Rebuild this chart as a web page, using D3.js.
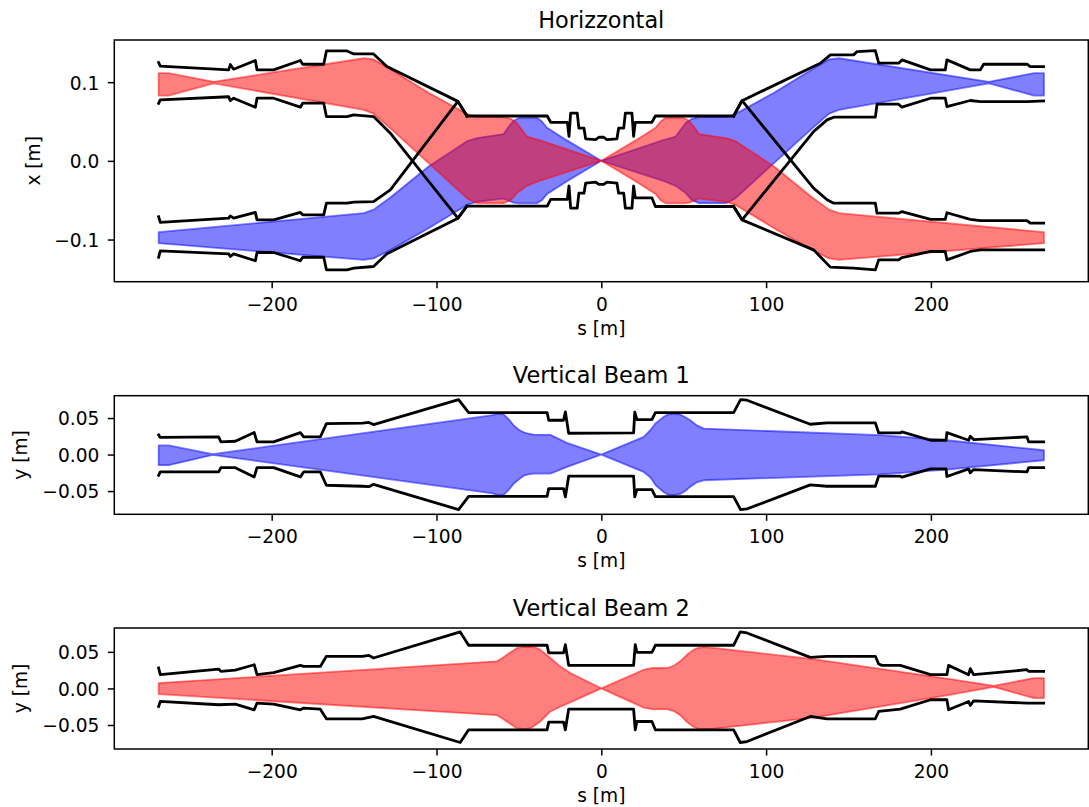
<!DOCTYPE html>
<html>
<head>
<meta charset="utf-8">
<script src="https://cdn.jsdelivr.net/npm/d3@7"></script>
<style>
  body { margin: 0; background: #fff; }
  svg { display: block; }
</style>
</head>
<body>
<script>
/**
 * DATA
 * bands are [s, lower, upper], aperture lines are [s, value]
 */
const sTicks = [-200, -100, 0, 100, 200];
const hTicks = [-0.1, 0, 0.1];
const vTicks = [-0.05, 0, 0.05];

// Horizontal envelopes
const hBeam1Band = [
  [-268.6, -0.1046, -0.0906], [-144.2, -0.1258, -0.0665], [-138.2, -0.124, -0.062],
  [-128.0, -0.1135, -0.0466], [-104.8, -0.0856, -0.0072], [-81.5, -0.056, 0.025],
  [-75.4, -0.052, 0.029], [-59.3, -0.048, 0.034], [-56.0, -0.051, 0.044], [-53.2, -0.0532, 0.051],
  [-50.0, -0.054, 0.0545], [-39.0, -0.054, 0.0548], [-36.0, -0.05, 0.05], [-32.9, -0.042, 0.042],
  [-20.8, -0.026, 0.026], [0, 0, 0], [37.0, -0.025, 0.026], [45.1, -0.0317, 0.0309],
  [51.2, -0.041, 0.048], [55.0, -0.05, 0.0535], [59.3, -0.0538, 0.0555], [75.4, -0.0538, 0.0555],
  [78.5, -0.051, 0.0575], [81.5, -0.0474, 0.0597], [104.8, -0.0028, 0.0866], [128.0, 0.0413, 0.1165],
  [138.2, 0.06, 0.129], [144.2, 0.0648, 0.1304], [235.2, 0.0985, 0.1005],
  [262.5, 0.083, 0.1114], [268.6, 0.083, 0.1114]
];
const hBeam2Band = [
  [-268.6, 0.083, 0.1114], [-262.5, 0.083, 0.1114], [-235.2, 0.0985, 0.1005],
  [-144.2, 0.0648, 0.1304], [-138.2, 0.06, 0.129], [-128.0, 0.0413, 0.1165],
  [-104.8, -0.0028, 0.0866], [-81.5, -0.0474, 0.0597], [-78.5, -0.051, 0.0575],
  [-75.4, -0.0538, 0.0555], [-59.3, -0.0538, 0.0555], [-55.0, -0.05, 0.0535],
  [-51.2, -0.041, 0.048], [-45.1, -0.0317, 0.0309], [-37.0, -0.025, 0.026], [0, 0, 0],
  [20.8, -0.026, 0.026], [32.9, -0.042, 0.042], [36.0, -0.05, 0.05], [39.0, -0.054, 0.0548],
  [50.0, -0.054, 0.0545], [53.2, -0.0532, 0.051], [56.0, -0.051, 0.044],
  [59.3, -0.048, 0.034], [75.4, -0.052, 0.029], [81.5, -0.056, 0.025],
  [104.8, -0.0856, -0.0072], [128.0, -0.1135, -0.0466], [138.2, -0.124, -0.062],
  [144.2, -0.1258, -0.0665], [268.6, -0.1046, -0.0906]
];

// Horizontal aperture, outer pipes (left and right of the common part)
const hApB2UpperLeft = [
  [-268.6, 0.125], [-267.6, 0.1205], [-226.1, 0.1156], [-225.1, 0.1224], [-223.1, 0.1165],
  [-209.9, 0.1275], [-208.9, 0.1156], [-198.8, 0.1156], [-182.6, 0.1275], [-181.2, 0.1228],
  [-168.4, 0.1228], [-166.8, 0.1397], [-154.3, 0.1397], [-150.2, 0.1359], [-138.2, 0.1359],
  [-130.1, 0.1198], [-87.0, 0.0756], [-81.5, 0.057]
];
const hApB2LowerLeft = [
  [-268.6, 0.073], [-267.6, 0.0775], [-226.1, 0.0815], [-225.1, 0.0765], [-223.1, 0.0796],
  [-209.9, 0.0682], [-208.9, 0.0796], [-198.8, 0.0796], [-182.6, 0.0682], [-181.2, 0.0733],
  [-168.4, 0.0733], [-166.8, 0.0563], [-154.3, 0.0563], [-150.2, 0.0584], [-138.2, 0.0563],
  [-128.0, 0.0351], [-87.0, -0.0729], [-81.5, -0.0575]
];
const hApB1UpperLeft = [
  [-268.6, -0.071], [-267.6, -0.0783], [-226.1, -0.0728], [-225.1, -0.07], [-223.1, -0.0728],
  [-209.9, -0.0656], [-208.9, -0.075], [-198.8, -0.075], [-182.6, -0.0656], [-181.2, -0.0686],
  [-168.4, -0.0686], [-166.8, -0.0538], [-154.3, -0.0538], [-150.2, -0.0525], [-138.2, -0.0517],
  [-128.0, -0.0368], [-87.0, 0.0756], [-81.5, 0.057]
];
const hApB1LowerLeft = [
  [-268.6, -0.1225], [-267.6, -0.1145], [-226.1, -0.1182], [-225.1, -0.1215], [-223.1, -0.1182],
  [-209.9, -0.127], [-208.9, -0.1165], [-198.8, -0.1165], [-182.6, -0.127], [-181.2, -0.1225],
  [-168.4, -0.1225], [-166.8, -0.1385], [-154.3, -0.1385], [-150.2, -0.1364], [-138.2, -0.1343],
  [-130.1, -0.1182], [-87.0, -0.0729], [-81.5, -0.0575]
];
const hApInnerUpper = [
  [-81.5, 0.057], [-32.8, 0.057], [-30.7, 0.049], [-20.6, 0.049], [-19.6, 0.031],
  [-18.6, 0.0606], [-14.6, 0.0606], [-13.6, 0.0415], [-10.5, 0.0415], [-9.5, 0.028],
  [-3.4, 0.027], [-1.5, 0.03], [1.5, 0.03], [3.4, 0.027], [9.5, 0.028], [10.5, 0.0415],
  [13.6, 0.0415], [14.6, 0.0606], [18.6, 0.0606], [19.6, 0.031], [20.6, 0.049],
  [30.7, 0.049], [32.8, 0.057], [80.3, 0.057]
];
const hApInnerLower = [
  [-81.5, -0.0575], [-32.8, -0.0575], [-30.7, -0.049], [-20.6, -0.049], [-19.6, -0.032],
  [-18.6, -0.0601], [-14.6, -0.0601], [-13.6, -0.0411], [-10.5, -0.0411], [-9.5, -0.0284],
  [-3.4, -0.027], [-1.5, -0.03], [1.5, -0.03], [3.4, -0.027], [9.5, -0.0284], [10.5, -0.0411],
  [13.6, -0.0411], [14.6, -0.0601], [18.6, -0.0601], [19.6, -0.032], [20.6, -0.047],
  [30.7, -0.047], [32.8, -0.058], [80.3, -0.058]
];
const hApB1UpperRight = [
  [80.3, 0.057], [85.4, 0.0765], [132.9, 0.1241], [139.0, 0.1347], [153.1, 0.1347],
  [155.2, 0.1389], [166.3, 0.1402], [168.3, 0.1241], [180.4, 0.1241], [182.4, 0.1283],
  [199.8, 0.1156], [208.7, 0.1156], [209.7, 0.1283], [223.9, 0.1156], [230.0, 0.1156],
  [232.0, 0.1228], [258.3, 0.1228], [260.3, 0.1198], [268.4, 0.1198]
];
const hApB1LowerRight = [
  [80.3, -0.058], [85.4, -0.075], [128.8, 0.0372], [137.0, 0.0521], [141.0, 0.0555],
  [166.3, 0.0555], [167.3, 0.072], [180.4, 0.072], [182.4, 0.0682], [199.8, 0.0796],
  [208.7, 0.0796], [209.7, 0.069], [223.9, 0.0767], [230.0, 0.0754], [258.3, 0.0754],
  [268.4, 0.0762]
];
const hApB2UpperRight = [
  [80.3, 0.057], [85.4, 0.0765], [128.8, -0.0347], [137.0, -0.0495], [141.0, -0.0538],
  [166.3, -0.0538], [167.3, -0.0665], [180.4, -0.0665], [182.4, -0.0645], [199.8, -0.0745],
  [208.7, -0.0745], [209.7, -0.066], [223.9, -0.0745], [230.0, -0.076], [258.3, -0.076],
  [260.3, -0.0792], [268.4, -0.0792]
];
const hApB2LowerRight = [
  [80.3, -0.058], [85.4, -0.075], [128.8, -0.1131], [139.0, -0.1351], [153.1, -0.1364],
  [166.3, -0.1385], [168.3, -0.1258], [180.4, -0.1258], [182.4, -0.123], [199.8, -0.1152],
  [208.7, -0.1152], [209.7, -0.1258], [223.9, -0.1152], [230.0, -0.1131], [268.4, -0.1131]
];

// Vertical envelopes
const vBeam1Band = [
  [-268.6, -0.0145, 0.0125], [-262.5, -0.0145, 0.0125], [-235.8, -0.0005, 0.0005],
  [-66.0, -0.053, 0.054], [-63.3, -0.0555, 0.056], [-59.3, -0.0555, 0.055],
  [-56.0, -0.048, 0.048], [-53.2, -0.04, 0.04], [-50.0, -0.034, 0.034],
  [-47.1, -0.029, 0.0305], [-44.0, -0.027, 0.0285], [-41.1, -0.0261, 0.0274],
  [-30.9, -0.0261, 0.027], [-20.8, -0.0169, 0.016], [0, 0, 0],
  [25.7, -0.0238, 0.0242], [29.7, -0.031, 0.0333], [33.0, -0.042, 0.043],
  [37.8, -0.0512, 0.0516], [40.5, -0.055, 0.055], [43.9, -0.0557, 0.0561],
  [47.9, -0.054, 0.0547], [51.0, -0.05, 0.051], [54.0, -0.044, 0.047],
  [58.0, -0.038, 0.04], [62.1, -0.0352, 0.0356], [169.3, -0.027, 0.0265],
  [209.7, -0.0206, 0.0196], [268.6, -0.0078, 0.0059]
];
const vBeam2Band = [
  [-268.6, -0.0077, 0.0073], [-63.3, -0.0365, 0.037], [-60.0, -0.041, 0.0415],
  [-57.2, -0.0455, 0.0461], [-51.2, -0.0545, 0.0553], [-47.0, -0.0555, 0.0568],
  [-43.1, -0.0543, 0.0566], [-40.0, -0.05, 0.056], [-37.0, -0.0452, 0.053],
  [-30.9, -0.0315, 0.0416], [-24.9, -0.025, 0.0301], [-18.8, -0.019, 0.021],
  [0, 0, 0], [25.7, -0.0262, 0.0256], [30.7, -0.0283, 0.0279], [39.8, -0.0283, 0.0279],
  [44.0, -0.031, 0.031], [47.9, -0.0365, 0.037], [52.0, -0.046, 0.046],
  [56.0, -0.0525, 0.053], [59.0, -0.0552, 0.0556], [62.1, -0.0558, 0.0566],
  [68.2, -0.055, 0.0553], [128.8, -0.04, 0.04], [209.7, -0.0094, 0.0134],
  [238.1, 0.002, 0.0035], [262.5, -0.0132, 0.0142], [268.6, -0.0132, 0.0142]
];

// Vertical apertures
const vAp1Upper = [
  [-268.6, 0.027], [-267.6, 0.0235], [-232.2, 0.0241], [-230.8, 0.0173], [-222.1, 0.0182],
  [-210.6, 0.0301], [-208.9, 0.0173], [-198.8, 0.0173], [-182.6, 0.0301], [-180.6, 0.0241],
  [-170.5, 0.0241], [-166.8, 0.0424], [-145.0, 0.043], [-141.0, 0.044], [-138.2, 0.0411],
  [-86.6, 0.0753], [-80.5, 0.0575], [-32.9, 0.0575], [-31.9, 0.047], [-22.9, 0.047],
  [-21.8, 0.0584], [-19.8, 0.0292], [19.6, 0.0296], [20.3, 0.058], [21.6, 0.0479],
  [30.7, 0.0479], [32.8, 0.0575], [80.3, 0.0575], [84.5, 0.0753], [88.4, 0.0744],
  [126.8, 0.0415], [136.9, 0.0434], [166.3, 0.0434], [168.3, 0.0296], [181.4, 0.0296],
  [182.4, 0.031], [199.8, 0.0196], [209.2, 0.0196], [209.7, 0.0301], [222.9, 0.0196],
  [223.9, 0.0251], [225.9, 0.0205], [258.3, 0.0241], [259.3, 0.0173], [268.4, 0.0173]
];
const vAp1Lower = [
  [-268.6, -0.0284], [-267.6, -0.0238], [-232.2, -0.0238], [-230.8, -0.0179], [-222.1, -0.0179],
  [-210.6, -0.0306], [-208.9, -0.0179], [-198.8, -0.0179], [-182.6, -0.0306], [-180.6, -0.0238],
  [-170.5, -0.0238], [-166.8, -0.042], [-145.0, -0.0434], [-141.0, -0.044], [-138.2, -0.0407],
  [-86.6, -0.0754], [-80.5, -0.0572], [-32.9, -0.0572], [-31.9, -0.0466], [-22.9, -0.0466],
  [-21.8, -0.058], [-19.8, -0.0296], [19.6, -0.0296], [20.3, -0.058], [21.6, -0.0479],
  [30.7, -0.0479], [32.8, -0.0575], [80.3, -0.0575], [84.5, -0.0754], [88.4, -0.0744],
  [126.8, -0.0415], [136.9, -0.0434], [166.3, -0.0434], [168.3, -0.0296], [181.4, -0.0296],
  [182.4, -0.031], [199.8, -0.0196], [209.2, -0.0196], [209.7, -0.0301], [222.9, -0.0196],
  [223.9, -0.0251], [225.9, -0.0205], [258.3, -0.0238], [259.3, -0.0179], [268.4, -0.0179]
];
const vAp2Upper = [
  [-268.6, 0.0279], [-267.6, 0.0188], [-232.2, 0.0265], [-230.8, 0.0233], [-222.1, 0.025],
  [-210.6, 0.0324], [-208.9, 0.0188], [-198.8, 0.0215], [-182.6, 0.0315], [-180.6, 0.0301],
  [-170.5, 0.0301], [-166.8, 0.0439], [-145.0, 0.0439], [-141.0, 0.0452], [-138.2, 0.0416],
  [-85.6, 0.0772], [-80.5, 0.059], [-32.9, 0.059], [-31.9, 0.0485], [-22.9, 0.0485],
  [-21.8, 0.0598], [-19.8, 0.0315], [19.6, 0.0315], [20.6, 0.0598], [21.6, 0.0494],
  [30.7, 0.0494], [32.8, 0.059], [80.3, 0.059], [84.3, 0.0772], [88.4, 0.0758],
  [126.8, 0.0425], [136.9, 0.0439], [166.3, 0.0439], [168.3, 0.0334], [170.3, 0.0315],
  [181.4, 0.0315], [199.8, 0.0188], [209.7, 0.0188], [210.7, 0.0315], [222.9, 0.0188],
  [223.9, 0.027], [225.9, 0.0188], [258.3, 0.0256], [259.3, 0.0233], [268.4, 0.0233]
];
const vAp2Lower = [
  [-268.6, -0.0246], [-267.6, -0.0178], [-232.2, -0.0223], [-222.1, -0.0214], [-210.6, -0.0292],
  [-208.9, -0.02], [-198.8, -0.0214], [-182.6, -0.0292], [-180.6, -0.0269], [-170.5, -0.0283],
  [-166.8, -0.0415], [-145.0, -0.0415], [-138.2, -0.0383], [-85.6, -0.0739], [-80.5, -0.0566],
  [-32.9, -0.0566], [-31.9, -0.0461], [-22.9, -0.0461], [-21.8, -0.0566], [-19.8, -0.0283],
  [19.6, -0.0283], [20.6, -0.0566], [21.6, -0.0452], [30.7, -0.0452], [32.8, -0.0566],
  [80.3, -0.0566], [84.3, -0.0739], [88.4, -0.0726], [126.8, -0.0383], [136.9, -0.0415],
  [166.3, -0.0415], [168.3, -0.0315], [181.4, -0.0283], [199.8, -0.0155], [209.7, -0.0155],
  [210.7, -0.0292], [222.9, -0.0178], [223.9, -0.0233], [225.9, -0.0169], [258.3, -0.0201],
  [268.4, -0.0201]
];

/**
 * LAYOUT
 */
const WIDTH = 1089;
const HEIGHT = 807;
const LEFT = 114.3;
const RIGHT = 1088.3;
const S_DOMAIN = [-295.5, 295.5];
const FONT = "'DejaVu Sans', sans-serif";
const TICK_FONT = 18.6;
const TITLE_FONT = 22.4;
const TICK_LEN = 6.5;
const BLUE = "#0000ff";
const RED = "#ff0000";

const panels = [
  {
    title: "Horizzontal", ylabel: "x [m]", ylabelX: 39.6,
    top: 40, bottom: 281.7, yDomain: [-0.1536, 0.1536], yTicks: hTicks, fmt: ".1f",
    bands: [[hBeam1Band, BLUE], [hBeam2Band, RED]],
    lines: [hApB2UpperLeft, hApB2LowerLeft, hApB1UpperLeft, hApB1LowerLeft,
      hApInnerUpper, hApInnerLower,
      hApB1UpperRight, hApB1LowerRight, hApB2UpperRight, hApB2LowerRight]
  },
  {
    title: "Vertical Beam 1", ylabel: "y [m]", ylabelX: 26.8,
    top: 395.7, bottom: 514.3, yDomain: [-0.0818, 0.0806], yTicks: vTicks, fmt: ".2f",
    bands: [[vBeam1Band, BLUE]],
    lines: [vAp1Upper, vAp1Lower]
  },
  {
    title: "Vertical Beam 2", ylabel: "y [m]", ylabelX: 26.8,
    top: 628.0, bottom: 749, yDomain: [-0.0828, 0.0826], yTicks: vTicks, fmt: ".2f",
    bands: [[vBeam2Band, RED]],
    lines: [vAp2Upper, vAp2Lower]
  }
];

const svg = d3.select("body").append("svg")
  .attr("width", WIDTH)
  .attr("height", HEIGHT)
  .attr("font-family", FONT);

const x = d3.scaleLinear().domain(S_DOMAIN).range([LEFT, RIGHT]);
const midX = (LEFT + RIGHT) / 2;

// d3 axes set their own font, so restyle after the call
const styleAxis = (a, textAttrs) => {
  a.attr("font-family", FONT).attr("font-size", TICK_FONT);
  a.select(".domain").remove();
  a.selectAll("line").attr("stroke", "#000").attr("stroke-width", 1.5);
  const t = a.selectAll("text").attr("fill", "#000");
  Object.entries(textAttrs).forEach(([k, v]) => t.attr(k, v));
};

panels.forEach((p) => {
  const y = d3.scaleLinear().domain(p.yDomain).range([p.bottom, p.top]);
  const g = svg.append("g");

  const area = d3.area()
    .x((d) => x(d[0]))
    .y0((d) => y(d[1]))
    .y1((d) => y(d[2]));

  const line = d3.line()
    .x((d) => x(d[0]))
    .y((d) => y(d[1]));

  // beam envelopes, drawn semi transparent so overlaps mix
  p.bands.forEach(([data, color]) => {
    g.append("path")
      .datum(data)
      .attr("d", area)
      .attr("fill", color)
      .attr("fill-opacity", 0.5)
      .attr("stroke", color)
      .attr("stroke-opacity", 0.5)
      .attr("stroke-width", 1.8)
      .attr("stroke-linejoin", "round");
  });

  // aperture
  p.lines.forEach((data) => {
    g.append("path")
      .datum(data)
      .attr("d", line)
      .attr("fill", "none")
      .attr("stroke", "#000")
      .attr("stroke-width", 2.8)
      .attr("stroke-linejoin", "round")
      .attr("stroke-linecap", "square");
  });

  // axes
  g.append("g")
    .attr("transform", `translate(0,${p.bottom})`)
    .call(d3.axisBottom(x).tickValues(sTicks).tickSize(TICK_LEN).tickFormat(d3.format("d")))
    .call((a) => styleAxis(a, { y: 29, dy: null }));

  g.append("g")
    .attr("transform", `translate(${LEFT},0)`)
    .call(d3.axisLeft(y).tickValues(p.yTicks).tickSize(TICK_LEN).tickFormat(d3.format(p.fmt)))
    .call((a) => styleAxis(a, { x: -15, dy: "0.37em" }));

  g.append("rect")
    .attr("x", LEFT)
    .attr("y", p.top)
    .attr("width", RIGHT - LEFT)
    .attr("height", p.bottom - p.top)
    .attr("fill", "none")
    .attr("stroke", "#000")
    .attr("stroke-width", 1.5);

  g.append("text")
    .attr("x", midX)
    .attr("y", p.top - 12.5)
    .attr("text-anchor", "middle")
    .attr("font-size", TITLE_FONT)
    .text(p.title);

  g.append("text")
    .attr("x", midX)
    .attr("y", p.bottom + 53)
    .attr("text-anchor", "middle")
    .attr("font-size", TICK_FONT)
    .text("s [m]");

  g.append("text")
    .attr("transform", `translate(${p.ylabelX},${(p.top + p.bottom) / 2}) rotate(-90)`)
    .attr("text-anchor", "middle")
    .attr("font-size", TICK_FONT)
    .text(p.ylabel);
});
</script>
</body>
</html>
